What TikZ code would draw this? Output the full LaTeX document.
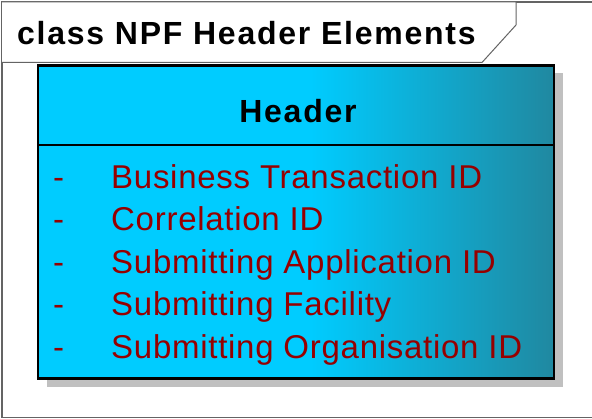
\documentclass[tikz,border=0pt]{standalone}
\usepackage{fontspec}
\setmainfont{Liberation Sans}
\newfontfamily\titlefont[LetterSpace=5.5]{Liberation Sans}
\newfontfamily\headfont[LetterSpace=5.5]{Liberation Sans}
\newfontfamily\attrfont[LetterSpace=2.2]{Liberation Sans}
\definecolor{cyanA}{RGB}{0,204,255}
\definecolor{tealB}{RGB}{32,136,160}
\definecolor{attrred}{RGB}{150,0,0}
\definecolor{shadowgray}{RGB}{192,192,192}
\definecolor{framegray}{RGB}{100,100,100}
\pgfdeclarehorizontalshading{boxshade}{100bp}{color(0bp)=(cyanA); color(25bp)=(cyanA); color(51.4bp)=(cyanA); color(75bp)=(tealB); color(100bp)=(tealB)}
\tikzset{
  frameline/.style={draw=framegray, line width=1.2pt},
  attr/.style={anchor=base west, inner sep=0pt, text=attrred, font=\attrfont\fontsize{33}{39}\selectfont},
}
\begin{document}
\begin{tikzpicture}[x=1pt,y=-1pt]
\useasboundingbox (0,0) rectangle (592,419);
\fill[white] (0,0) rectangle (592,419);
% outer frame
\draw[frameline] (594,2) -- (2,2) -- (2,417.3) -- (594,417.3);
% title tab
\draw[frameline, fill=white, line width=1pt] (2,2) -- (516,2) -- (516,25) -- (482,62.5) -- (2,62.5);
\node[anchor=base west, inner sep=0pt, font=\titlefont\bfseries\fontsize{32}{37}\selectfont] (title) at (17,44.5) {class NPF Header Elements};
% shadow
\fill[shadowgray] (46.5,73) rectangle (562.7,387.3);
% class box
\shade[shading=boxshade] (38,65.5) rectangle (554,378.5);
\draw[black, line width=2.5pt] (38,65.5) rectangle (554,378.5);
\coordinate (sepL) at (38,145);
\coordinate (sepR) at (554,145);
\draw[black, line width=2.2pt] (sepL) -- (sepR);
\node[anchor=base, inner sep=0pt, font=\headfont\bfseries\fontsize{32}{38}\selectfont] (hdr) at (298,122.5) {Header};
% attributes
\node[attr] (d1) at (53,188.5) {-};
\node[attr] (a1) at (111,188.5) {Business Transaction ID};
\node[attr] (d2) at (53,231) {-};
\node[attr] (a2) at (111,231) {Correlation ID};
\node[attr] (d3) at (53,273.5) {-};
\node[attr] (a3) at (111,273.5) {Submitting Application ID};
\node[attr] (d4) at (53,316) {-};
\node[attr] (a4) at (111,316) {Submitting Facility};
\node[attr] (d5) at (53,358.5) {-};
\node[attr] (a5) at (111,358.5) {Submitting Organisation ID};
\end{tikzpicture}
\end{document}
